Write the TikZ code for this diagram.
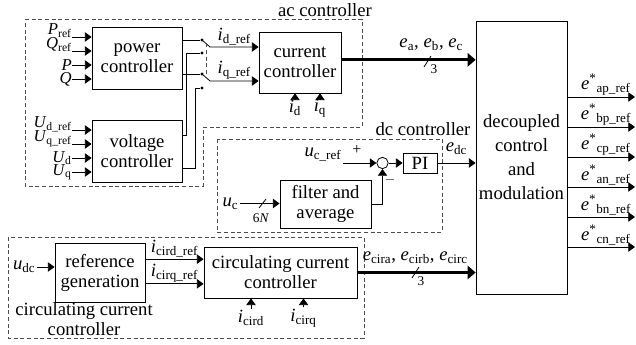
\documentclass[tikz,border=0pt]{standalone}
\usepackage{fontspec}
\setmainfont{Liberation Serif}
\usetikzlibrary{arrows.meta,calc}

\newcommand{\sv}[2]{\textit{#1}\textsubscript{#2}}
\newcommand{\es}[1]{\textit{e}\textsuperscript{*}\textsubscript{#1}}

\tikzset{
  block/.style={draw, line width=0.6pt, align=center, inner sep=0pt},
  wire/.style={line width=0.6pt},
  sig/.style={wire, -{Triangle[length=5pt,width=7pt]}},
  bus/.style={line width=2pt, -{Triangle[length=6pt,width=10pt]}},
  region/.style={draw=black!70, line width=0.6pt, dash pattern=on 3pt off 2pt},
  jdot/.style={circle, fill, inner sep=0pt, minimum size=2.6pt},
  small/.style={font=\fontsize{10}{10}\selectfont, inner sep=0.5pt},
  inlbl/.style={inner sep=0pt, font=\fontsize{12.5}{13}\selectfont},
}

\begin{document}
\begin{tikzpicture}[x=0.75pt,y=0.75pt,yscale=-1,xscale=1, font=\fontsize{14}{15}\selectfont, inner sep=1pt]
\useasboundingbox (0,0) rectangle (636,345);

%Dashed regions
\draw[region] (25,19) -- (362,19) -- (362,127) -- (203,127) -- (203,186) -- (25,186) -- cycle;
\draw[region] (217,139) rectangle (442,232);
\draw[region] (8,237) rectangle (364,338);

% Region labels
\node (aclbl) at (325,10) {ac controller};
\node (dclbl) at (423,129) {dc controller};
\node[align=center] (cclbl) at (84,319) {circulating current\\controller};

%Blocks
\node[block, minimum width=67.5pt, minimum height=46.5pt] (pwr) at (137,58) {power\\controller};
\node[block, minimum width=67.5pt, minimum height=46.5pt] (vlt) at (137,151) {voltage\\controller};
\node[block, minimum width=61.5pt, minimum height=45.75pt] (cur) at (300,62.5) {current\\controller};
\node[block, minimum width=68.25pt, minimum height=204.75pt] (dcm) at (521.5,157.5) {decoupled\\[3pt]control\\[3pt]and\\[3pt]modulation};
\node[block, minimum width=25.5pt, minimum height=15pt] (pi) at (420,163) {PI};
\node[block, minimum width=68.25pt, minimum height=36pt] (flt) at (325.5,204) {filter and\\average};
\node[draw, circle, line width=0.6pt, inner sep=0pt, minimum size=8.5pt] (sum) at (382.5,163) {};
\node[block, minimum width=67.5pt, minimum height=44.25pt] (refg) at (100,272.5) {reference\\generation};
\node[block, minimum width=114.75pt, minimum height=38.25pt] (ccc) at (280.5,272.5) {circulating current\\controller};

%Power controller inputs
\coordinate (pwrin1) at (72,37);
\coordinate (pwrin2) at (72,51);
\coordinate (pwrin3) at (72,65);
\coordinate (pwrin4) at (72,79);
\draw[sig] (pwrin1) -- (pwrin1 -| pwr.west);
\draw[sig] (pwrin2) -- (pwrin2 -| pwr.west);
\draw[sig] (pwrin3) -- (pwrin3 -| pwr.west);
\draw[sig] (pwrin4) -- (pwrin4 -| pwr.west);
% Text Node
\node[inlbl, anchor=base east] at ([yshift=-2pt]pwrin1) {\sv{P}{ref}};
\node[inlbl, anchor=base east] at ([yshift=-2pt]pwrin2) {\sv{Q}{ref}};
\node[inlbl, anchor=east] at (pwrin3) {\textit{P}};
\node[inlbl, anchor=east] at (pwrin4) {\textit{Q}};

%Voltage controller inputs
\coordinate (vltin1) at (72,130);
\coordinate (vltin2) at (72,144);
\coordinate (vltin3) at (72,158);
\coordinate (vltin4) at (72,172);
\draw[sig] (vltin1) -- (vltin1 -| vlt.west);
\draw[sig] (vltin2) -- (vltin2 -| vlt.west);
\draw[sig] (vltin3) -- (vltin3 -| vlt.west);
\draw[sig] (vltin4) -- (vltin4 -| vlt.west);
% Text Node
\node[inlbl, anchor=base east] at ([yshift=-2pt]vltin1) {\sv{U}{d\_ref}};
\node[inlbl, anchor=base east] at ([yshift=-2pt]vltin2) {\sv{U}{q\_ref}};
\node[inlbl, anchor=east] at (vltin3) {\sv{U}{d}};
\node[inlbl, anchor=east] at (vltin4) {\sv{U}{q}};

%Mode switch
\node[jdot] (d1) at (202,40) {};
\node[jdot] (d2) at (202,53) {};
\node[jdot] (d3) at (202,74) {};
\node[jdot] (d4) at (202,88) {};
\coordinate (swA) at (210,47);
\coordinate (swB) at (210,81);
\draw[wire] (pwr.east |- d1) -- (d1);
\draw[wire] (pwr.east |- d3) -- (d3);
\draw[wire] ([yshift=-12pt]vlt.east) -- ++(4,0) |- (d2);
\draw[wire] ([yshift=12.75pt]vlt.east) -- ++(13,0) |- (d4);
\draw[sig] (d1.center) -- (swA) -- (swA -| cur.west) node[midway, above=0pt] {\sv{i}{d\_ref}};
\draw[sig] (d3.center) -- (swB) -- (swB -| cur.west) node[midway, above=0pt] {\sv{i}{q\_ref}};
\draw[region] ($(d1)!0.5!(swA)$) -- ($(d3)!0.5!(swB)$);

%Current controller feedback
\node (idl) at (295,108) {\sv{i}{d}};
\node (iql) at (320,108) {\sv{i}{q}};
\draw[sig] (idl.north) -- (idl.north |- cur.south);
\draw[sig] (iql.north) -- (iql.north |- cur.south);

%ac output bus
\draw[bus] ([yshift=-2pt]cur.east) -- ([yshift=-2pt]cur.east -| dcm.west) node[pos=0.67, above=5pt] (ebl) {\sv{e}{a}, \sv{e}{b}, \sv{e}{c}};
\draw[wire] (424,67) -- (431,56);
\node[small] at (434,69) {3};

%dc controller
\coordinate (ucr) at (343,163);
\node[anchor=base east] at (343,157) {\sv{u}{c\_ref}};
\draw[sig] (ucr) -- (sum.west);
\node[font=\fontsize{12}{12}\selectfont] at (357,150) {+};
\node[small] at (390,180) {$-$};
\draw[sig] (sum.east) -- (pi.west);
\draw[sig] (pi.east) -- (pi.east -| dcm.west) node[midway, above=5pt] {\sv{e}{dc}};
\draw[sig] (flt.east) -| (sum.south);
\coordinate (ucin) at (240,203.5);
\node[anchor=east] at (ucin) {\sv{u}{c}};
\draw[sig] (ucin) -- (ucin -| flt.west);
\draw[wire] (259,208) -- (266,199);
\node[small] at (261,218) {6\textit{N}};

%Circulating current controller
\coordinate (udcin) at (37,267);
\node[anchor=east] at (udcin) {\sv{u}{dc}};
\draw[sig] (udcin) -- (udcin -| refg.west);
\draw[sig] ([yshift=-10pt]refg.east) -- ([yshift=-10pt]refg.east -| ccc.west) node[midway, above=0pt] {\sv{i}{cird\_ref}};
\draw[sig] ([yshift=8.5pt]refg.east) -- ([yshift=8.5pt]refg.east -| ccc.west) node[midway, above=0pt] {\sv{i}{cirq\_ref}};
\node (icdl) at (251,318) {\sv{i}{cird}};
\node (icql) at (303.5,318) {\sv{i}{cirq}};
\draw[sig] (icdl.north) -- (icdl.north |- ccc.south);
\draw[sig] (icql.north) -- (icql.north |- ccc.south);
\draw[bus] (ccc.east) -- (ccc.east -| dcm.west) node[pos=0.49, above=5pt] (ecl) {\sv{e}{cira}, \sv{e}{cirb}, \sv{e}{circ}};
\draw[wire] (412,278) -- (419,267);
\node[small] at (421,281) {3};

%Modulation outputs
\coordinate (out1) at (635,97);
\coordinate (out2) at (635,127);
\coordinate (out3) at (635,157);
\coordinate (out4) at (635,187);
\coordinate (out5) at (635,217);
\coordinate (out6) at (635,247);
\draw[sig] (out1 -| dcm.east) -- (out1) node[pos=0.57, above=0pt] {\es{ap\_ref}};
\draw[sig] (out2 -| dcm.east) -- (out2) node[pos=0.57, above=0pt] {\es{bp\_ref}};
\draw[sig] (out3 -| dcm.east) -- (out3) node[pos=0.57, above=0pt] {\es{cp\_ref}};
\draw[sig] (out4 -| dcm.east) -- (out4) node[pos=0.57, above=0pt] {\es{an\_ref}};
\draw[sig] (out5 -| dcm.east) -- (out5) node[pos=0.57, above=0pt] {\es{bn\_ref}};
\draw[sig] (out6 -| dcm.east) -- (out6) node[pos=0.57, above=0pt] {\es{cn\_ref}};

\end{tikzpicture}
\end{document}
